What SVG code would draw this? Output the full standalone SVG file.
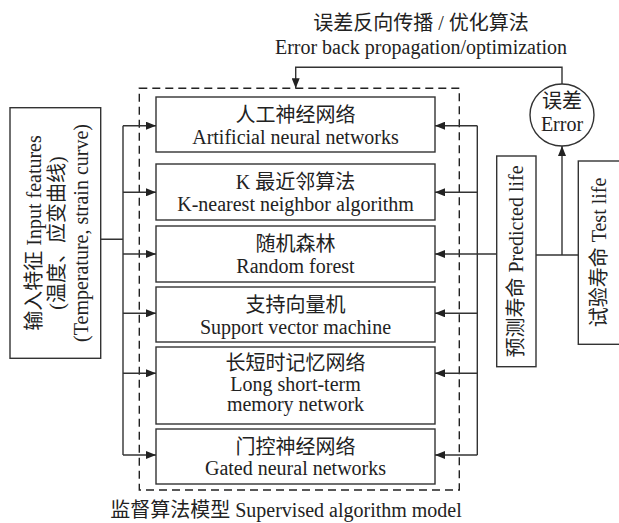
<svg xmlns="http://www.w3.org/2000/svg" width="619" height="523" viewBox="0 0 619 523">
<style>
text{font-family:"Liberation Serif","Noto Sans CJK SC",serif;font-size:20px;fill:#222;text-anchor:middle}
.box{fill:#fff;stroke:#333;stroke-width:1.4}
.ln{fill:none;stroke:#333;stroke-width:1.4}
.dash{fill:none;stroke:#222;stroke-width:1.4;stroke-dasharray:8 5}
</style>
<defs>
<marker id="ah" viewBox="0 0 10 8" refX="10" refY="4" markerWidth="10" markerHeight="8" markerUnits="userSpaceOnUse" orient="auto">
<path d="M0,0 L10,4 L0,8 Z" fill="#222"/>
</marker>
</defs>
<g id="title">
<text x="421" y="30">误差反向传播 / 优化算法</text>
<text x="421" y="54">Error back propagation/optimization</text>
</g>
<g id="model">
<rect class="dash" x="139.3" y="88.3" width="320" height="401.7"/>
<text x="286" y="517">监督算法模型 Supervised algorithm model</text>
</g>
<g id="input">
<rect class="box" x="10" y="107.7" width="90.7" height="250.6"/>
<text transform="translate(40.5,233) rotate(-90)">输入特征 Input features</text>
<text transform="translate(64,233) rotate(-90)">(温度、应变曲线)</text>
<text transform="translate(87.5,233) rotate(-90)">(Temperature, strain curve)</text>
</g>
<g id="ann">
<rect class="box" x="156" y="97" width="279" height="55"/>
<text x="295.5" y="121.5">人工神经网络</text>
<text x="295.5" y="143.5">Artificial neural networks</text>
</g>
<g id="knn">
<rect class="box" x="156" y="164" width="279" height="56"/>
<text x="295.5" y="188.5">K 最近邻算法</text>
<text x="295.5" y="210.5">K-nearest neighbor algorithm</text>
</g>
<g id="rf">
<rect class="box" x="156" y="226" width="279" height="56"/>
<text x="295.5" y="250.5">随机森林</text>
<text x="295.5" y="272.5">Random forest</text>
</g>
<g id="svm">
<rect class="box" x="156" y="287" width="279" height="55"/>
<text x="295.5" y="311.5">支持向量机</text>
<text x="295.5" y="333.5">Support vector machine</text>
</g>
<g id="lstm">
<rect class="box" x="156" y="347" width="279" height="77"/>
<text x="295.5" y="369.5">长短时记忆网络</text>
<text x="295.5" y="390.5">Long short-term</text>
<text x="295.5" y="411">memory network</text>
</g>
<g id="gnn">
<rect class="box" x="156" y="429" width="279" height="55"/>
<text x="295.5" y="453.5">门控神经网络</text>
<text x="295.5" y="475">Gated neural networks</text>
</g>
<g id="error">
<ellipse class="box" cx="562" cy="115" rx="32" ry="31"/>
<text x="562" y="108">误差</text>
<text x="562" y="130.5">Error</text>
</g>
<g id="predicted">
<rect class="box" x="496.7" y="156" width="39.3" height="210.7"/>
<text transform="translate(523,261.5) rotate(-90)">预测寿命 Predicted life</text>
</g>
<g id="test">
<rect class="box" x="578.3" y="161" width="45" height="183.3"/>
<text transform="translate(605.5,252.5) rotate(-90)">试验寿命 Test life</text>
</g>
<g id="connectors">
<path class="ln" d="M100.7,239.3 H123 M123,125.7 V455"/>
<path class="ln" marker-end="url(#ah)" d="M123,125.7 H156"/>
<path class="ln" marker-end="url(#ah)" d="M123,192.3 H156"/>
<path class="ln" marker-end="url(#ah)" d="M123,254 H156"/>
<path class="ln" marker-end="url(#ah)" d="M123,313.3 H156"/>
<path class="ln" marker-end="url(#ah)" d="M123,373.3 H156"/>
<path class="ln" marker-end="url(#ah)" d="M123,455 H156"/>
<path class="ln" d="M496.7,254 H477.3 M477.3,125.7 V455"/>
<path class="ln" marker-end="url(#ah)" d="M477.3,125.7 H435"/>
<path class="ln" marker-end="url(#ah)" d="M477.3,192.3 H435"/>
<path class="ln" marker-end="url(#ah)" d="M477.3,254 H435"/>
<path class="ln" marker-end="url(#ah)" d="M477.3,313.3 H435"/>
<path class="ln" marker-end="url(#ah)" d="M477.3,373.3 H435"/>
<path class="ln" marker-end="url(#ah)" d="M477.3,455 H435"/>
<path class="ln" d="M536,255 H578.3"/>
<path class="ln" marker-end="url(#ah)" d="M562,255 V146"/>
<path class="ln" marker-end="url(#ah)" d="M562,84 V67.3 H295.7 V88.3"/>
</g>
</svg>
